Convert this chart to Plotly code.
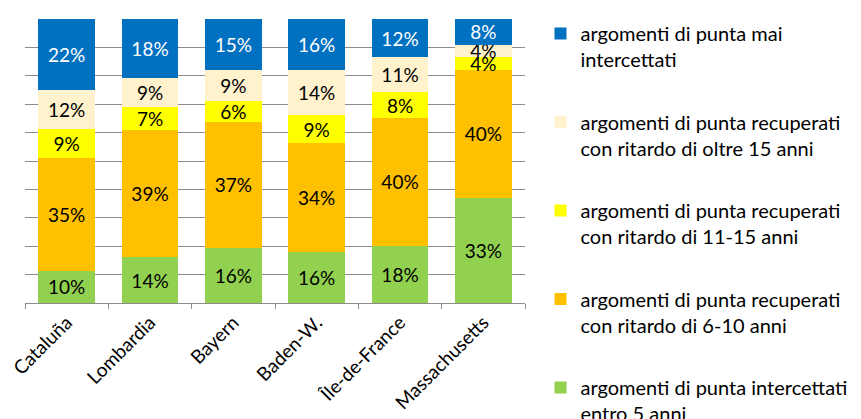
import plotly.graph_objects as go

categories = ["Cataluña", "Lombardia", "Bayern", "Baden-W.", "Île-de-France", "Massachusetts"]

series_names = [
    "argomenti di punta intercettati<br>entro 5 anni",
    "argomenti di punta recuperati<br>con ritardo di 6-10 anni",
    "argomenti di punta recuperati<br>con ritardo di 11-15 anni",
    "argomenti di punta recuperati<br>con ritardo di oltre 15 anni",
    "argomenti di punta mai<br>intercettati",
]
within_5 = [10, 14, 16, 16, 18, 33]
delay_6_10 = [35, 39, 37, 34, 40, 40]
delay_11_15 = [9, 7, 6, 9, 8, 4]
delay_over_15 = [12, 9, 9, 14, 11, 4]
never = [22, 18, 15, 16, 12, 8]

series_values = [within_5, delay_6_10, delay_11_15, delay_over_15, never]
colors = ["#92D050", "#FFC000", "#FFFF00", "#FFF2CC", "#0070C0"]
text_colors = ["black", "black", "black", "black", "white"]

FONT = "Lato, Calibri, sans-serif"
fig = go.Figure()
n = len(series_names)
for i, (name, vals) in enumerate(zip(series_names, series_values)):
    fig.add_trace(go.Bar(
        x=categories, y=vals, name=name,
        marker=dict(color=colors[i], line=dict(width=0)),
        text=[f"{v}%" for v in vals],
        textposition="inside", insidetextanchor="middle", textangle=0,
        textfont=dict(color=text_colors[i], size=19, family=FONT),
        legendgroup=f"g{i}", legendrank=(n - i) * 10,
    ))

fig.update_layout(
    barmode="stack", barnorm="percent", bargap=0.32,
    width=853, height=425,
    margin=dict(l=17, r=326, t=8, b=130),
    paper_bgcolor="white", plot_bgcolor="white",
    font=dict(family=FONT, size=19, color="black"),
    uniformtext=dict(minsize=19, mode="show"),
    showlegend=True,
    legend=dict(
        x=1.031, xanchor="left", y=1.01, yanchor="top",
        traceorder="grouped", valign="top", tracegroupgap=33.5,
        font=dict(size=20, family=FONT, color="black"),
        bgcolor="rgba(0,0,0,0)", maxheight=1,
    ),
    xaxis=dict(
        tickangle=-45, showline=True, linecolor="#8c8c8c", linewidth=1,
        ticks="outside", tickson="boundaries", ticklen=5, tickcolor="#8c8c8c",
        tickfont=dict(size=19, family=FONT, color="black"),
        showgrid=False, automargin=False,
    ),
    yaxis=dict(
        range=[0, 100], dtick=10, showticklabels=False,
        showgrid=True, gridcolor="#8c8c8c", gridwidth=1,
        zeroline=False, showline=False, automargin=False,
    ),
)

fig.write_html("out.html")
